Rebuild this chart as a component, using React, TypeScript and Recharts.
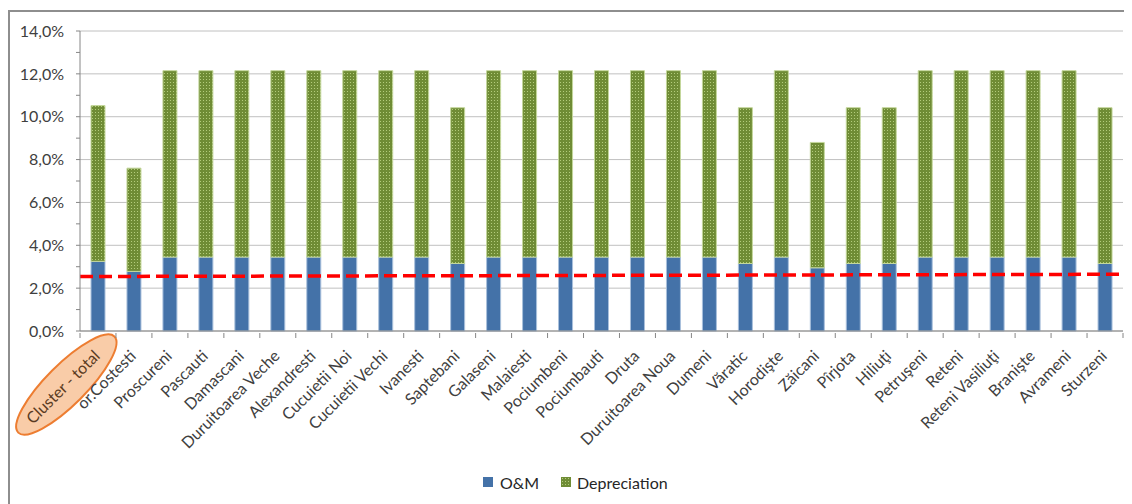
import React from 'react';
import { BarChart, Bar, XAxis, YAxis, CartesianGrid, Legend, ReferenceLine } from 'recharts';

const villages = [
  'Cluster - total', 'or.Costesti', 'Proscureni', 'Pascauti', 'Damascani',
  'Duruitoarea Veche', 'Alexandresti', 'Cucuietii Noi', 'Cucuietii Vechi', 'Ivanesti',
  'Saptebani', 'Galaseni', 'Malaiesti', 'Pociumbeni', 'Pociumbauti',
  'Druta', 'Duruitoarea Noua', 'Dumeni', 'Văratic', 'Horodişte',
  'Zăicani', 'Pîrjota', 'Hiliuţi', 'Petruşeni', 'Reteni',
  'Reteni Vasiliuţi', 'Branişte', 'Avrameni', 'Sturzeni',
];

// O&M share, %
const omValues = [
  3.25, 2.78, 3.45, 3.45, 3.45,
  3.45, 3.45, 3.45, 3.45, 3.45,
  3.15, 3.45, 3.45, 3.45, 3.45,
  3.45, 3.45, 3.45, 3.15, 3.45,
  2.95, 3.15, 3.15, 3.45, 3.45,
  3.45, 3.45, 3.45, 3.15,
];

// Depreciation share, %
const depreciationValues = [
  7.27, 4.82, 8.7, 8.7, 8.7,
  8.7, 8.7, 8.7, 8.7, 8.7,
  7.27, 8.7, 8.7, 8.7, 8.7,
  8.7, 8.7, 8.7, 7.27, 8.7,
  5.85, 7.27, 7.27, 8.7, 8.7,
  8.7, 8.7, 8.7, 7.27,
];

const yTicks = [0, 1, 2, 3, 4, 5, 6, 7, 8, 9, 10, 11, 12, 13, 14];
const gridValues = [0, 2, 4, 6, 8, 10, 12, 14];

// affordability threshold trend, at the first and last village
const trendFirst = 2.545;
const trendLast = 2.645;

const chartData = villages.map((name, i) => ({
  name,
  om: omValues[i],
  depreciation: depreciationValues[i],
}));

const FONT = 'Lato, "Liberation Sans", sans-serif';
const TEXT = '#404040';
const AXIS = '#868686';

const CHART_W = 1122;
const CHART_H = 490;
const MARGIN = { top: 19, right: 9, left: 10, bottom: 8 };
const Y_AXIS_W = 60;
const PLOT_W = CHART_W - MARGIN.left - MARGIN.right - Y_AXIS_W;
const BAND = PLOT_W / villages.length;

const fmtPct = (v: number) => (v % 2 === 0 ? `${v.toFixed(1).replace('.', ',')}%` : '');

function VillageTick(props: any) {
  const { x, y, payload, index } = props;
  const isTotal = index === 0;
  const isLast = index === villages.length - 1;
  return (
    <g>
      <line x1={x - BAND / 2} x2={x - BAND / 2} y1={y} y2={y + 5} stroke={AXIS} />
      {isLast && <line x1={x + BAND / 2} x2={x + BAND / 2} y1={y} y2={y + 5} stroke={AXIS} />}
      <g transform={`translate(${x + 3},${y + 24}) rotate(-45)`}>
        {isTotal && (
          <ellipse cx={-44} cy={-5} rx={68} ry={20} fill="#f9cca8" stroke="#ed7d31" strokeWidth={2} />
        )}
        <text x={0} y={0} textAnchor="end" fontFamily={FONT} fontSize={16} fill={isTotal ? '#5a3b22' : TEXT}>
          {payload.value}
        </text>
      </g>
    </g>
  );
}

// trend line runs across the whole plot, so stretch the segment half a band each side
function TrendShape(props: any) {
  const { x1, y1, x2, y2 } = props;
  const slope = (y2 - y1) / (x2 - x1);
  const ext = BAND / 2;
  return (
    <line
      x1={x1 - ext}
      y1={y1 - slope * ext}
      x2={x2 + ext}
      y2={y2 + slope * ext}
      stroke="#ff0000"
      strokeWidth={3.5}
      strokeDasharray="13 6"
    />
  );
}

function LegendContent() {
  const item = { display: 'flex', alignItems: 'center' } as const;
  return (
    <div style={{ display: 'flex', alignItems: 'center', height: 24, fontFamily: FONT, fontSize: 16, color: '#262626' }}>
      <div style={item}>
        <svg width={10} height={10} style={{ marginRight: 7 }}>
          <rect width={10} height={10} fill="#4472a8" />
        </svg>
        O&amp;M
      </div>
      <div style={{ ...item, marginLeft: 22 }}>
        <svg width={10} height={10} style={{ marginRight: 6 }}>
          <rect width={10} height={10} fill="url(#deprDots)" />
        </svg>
        Depreciation
      </div>
    </div>
  );
}

export default function App() {
  return (
    <div
      style={{
        width: 1124,
        height: 494,
        marginTop: 2,
        borderTop: '2px solid #8e8e8e',
        borderLeft: '2px solid #8e8e8e',
        boxSizing: 'border-box',
        background: '#fff',
      }}
    >
      <BarChart width={CHART_W} height={CHART_H} data={chartData} margin={MARGIN} barSize={14}>
        <defs>
          <pattern id="deprDots" width={3} height={3} patternUnits="userSpaceOnUse">
            <rect width={3} height={3} fill="#6f8c35" />
            <rect x={1} y={1} width={1} height={1} fill="#b3cc7c" />
          </pattern>
        </defs>
        <CartesianGrid vertical={false} horizontalValues={gridValues} stroke="#c0c0c0" />
        <XAxis
          dataKey="name"
          interval={0}
          height={139}
          axisLine={{ stroke: AXIS }}
          tickLine={false}
          tickSize={0}
          tick={<VillageTick />}
        />
        <YAxis
          width={Y_AXIS_W}
          domain={[0, 14]}
          ticks={yTicks}
          interval={0}
          tickFormatter={fmtPct}
          axisLine={{ stroke: AXIS }}
          tickLine={{ stroke: AXIS }}
          tickSize={4}
          tickMargin={12}
          tick={{ fontFamily: FONT, fontSize: 16, fill: TEXT }}
        />
        <Legend verticalAlign="bottom" content={<LegendContent />} wrapperStyle={{ left: 473, width: 240, height: 24 }} />
        <Bar dataKey="om" name="O&M" stackId="a" fill="#4472a8" stroke="#a9c0dc" strokeWidth={1} isAnimationActive={false} />
        <Bar dataKey="depreciation" name="Depreciation" stackId="a" fill="url(#deprDots)" stroke="#c4d79b" strokeWidth={1} isAnimationActive={false} />
        <ReferenceLine
          segment={[
            { x: villages[0], y: trendFirst },
            { x: villages[villages.length - 1], y: trendLast },
          ]}
          shape={<TrendShape />}
        />
      </BarChart>
    </div>
  );
}
